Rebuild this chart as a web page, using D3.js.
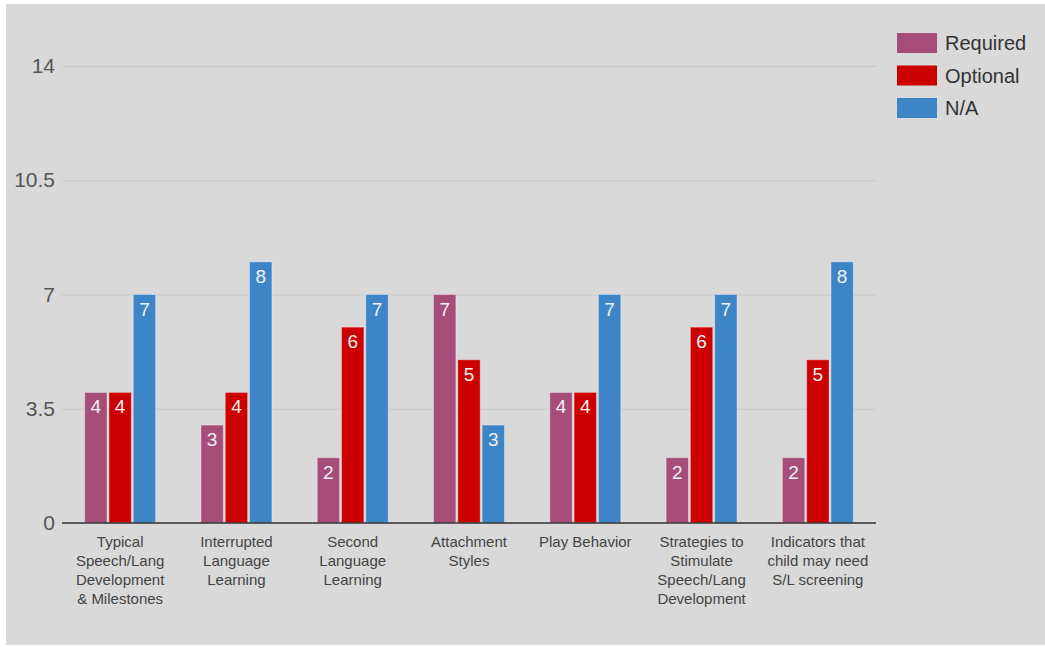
<!DOCTYPE html>
<html>
<head>
<meta charset="utf-8">
<script src="https://cdn.jsdelivr.net/npm/d3@7"></script>
<style>
  html, body { margin: 0; padding: 0; background: #ffffff; }
  svg { display: block; font-family: "Liberation Sans", Arial, sans-serif; }
</style>
</head>
<body>
<svg id="chart" width="1045" height="647"></svg>
<script>
// Topic coverage counts per category
const categories = [
  ["Typical", "Speech/Lang", "Development", "& Milestones"],
  ["Interrupted", "Language", "Learning"],
  ["Second", "Language", "Learning"],
  ["Attachment", "Styles"],
  ["Play Behavior"],
  ["Strategies to", "Stimulate", "Speech/Lang", "Development"],
  ["Indicators that", "child may need", "S/L screening"]
];
const seriesNames = ["Required", "Optional", "N/A"];
const required = [4, 3, 2, 7, 4, 2, 2];
const optional = [4, 4, 6, 5, 4, 6, 5];
const notApplicable = [7, 8, 7, 3, 7, 7, 8];
const yTicks = [0, 3.5, 7, 10.5, 14];
const colors = ["#a64d79", "#cc0000", "#3d85c6"];

const seriesValues = [required, optional, notApplicable];

const svg = d3.select("#chart");

svg.append("rect")
  .attr("x", 6).attr("y", 4)
  .attr("width", 1039).attr("height", 641)
  .attr("fill", "#d9d9d9");

const plot = { left: 62, right: 876, top: 66, bottom: 523 };

const x0 = d3.scaleBand()
  .domain(d3.range(categories.length))
  .range([plot.left, plot.right])
  .paddingInner(0.39)
  .paddingOuter(0.195);

const x1 = d3.scaleBand()
  .domain(d3.range(seriesNames.length))
  .range([0, x0.bandwidth()])
  .paddingInner(0.08);

const y = d3.scaleLinear().domain([0, 14]).range([plot.bottom, plot.top]);

// gridlines
const yAxis = d3.axisLeft(y).tickValues(yTicks).tickSize(plot.left - plot.right).tickPadding(7)
  .tickFormat(d => d);
const gy = svg.append("g")
  .attr("transform", `translate(${plot.left},0)`)
  .call(yAxis);
gy.select(".domain").remove();
gy.selectAll(".tick line").attr("stroke", "#c8c8c8").attr("stroke-width", 1);
gy.selectAll(".tick text")
  .attr("fill", "#555555")
  .attr("font-size", 21)
  .attr("x", -7);

// bars
const groups = svg.append("g").selectAll("g")
  .data(categories.map((c, i) => i))
  .join("g")
  .attr("transform", i => `translate(${x0(i)},0)`);

groups.selectAll("rect")
  .data(i => seriesValues.map((vals, s) => ({ s, v: vals[i] })))
  .join("rect")
  .attr("x", d => x1(d.s))
  .attr("y", d => y(d.v))
  .attr("width", x1.bandwidth())
  .attr("height", d => y(0) - y(d.v))
  .attr("fill", d => colors[d.s])
  .attr("stroke", "#ffffff")
  .attr("stroke-opacity", 0.35)
  .attr("stroke-width", 1);

groups.selectAll("text.val")
  .data(i => seriesValues.map((vals, s) => ({ s, v: vals[i] })))
  .join("text")
  .attr("class", "val")
  .attr("x", d => x1(d.s) + x1.bandwidth() / 2)
  .attr("y", d => y(d.v) + 21)
  .attr("text-anchor", "middle")
  .attr("fill", "#f2f2f2")
  .attr("font-size", 19)
  .text(d => d.v);

// baseline
svg.append("line")
  .attr("x1", plot.left).attr("x2", plot.right)
  .attr("y1", y(0)).attr("y2", y(0))
  .attr("stroke", "#333333").attr("stroke-width", 1.5);

// category labels
const labels = svg.append("g").selectAll("text")
  .data(categories)
  .join("text")
  .attr("x", (d, i) => x0(i) + x0.bandwidth() / 2)
  .attr("y", 547)
  .attr("text-anchor", "middle")
  .attr("fill", "#444444")
  .attr("font-size", 15);
labels.selectAll("tspan")
  .data(d => d)
  .join("tspan")
  .attr("x", function () { return d3.select(this.parentNode).attr("x"); })
  .attr("dy", (d, i) => i === 0 ? 0 : 19)
  .text(d => d);

// legend
const legend = svg.append("g").selectAll("g")
  .data(seriesNames)
  .join("g")
  .attr("transform", (d, i) => `translate(897,${33 + i * 32.5})`);
legend.append("rect")
  .attr("width", 40).attr("height", 20)
  .attr("fill", (d, i) => colors[i]);
legend.append("text")
  .attr("x", 48).attr("y", 17)
  .attr("fill", "#333333")
  .attr("font-size", 20)
  .text(d => d);
</script>
</body>
</html>
